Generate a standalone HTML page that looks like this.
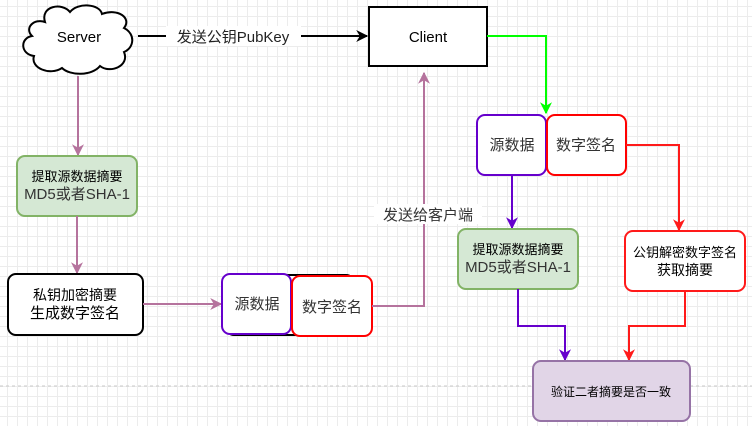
<!DOCTYPE html>
<html><head><meta charset="utf-8"><style>
html,body{margin:0;padding:0}
body{width:752px;height:426px;overflow:hidden;background-color:#fff;
background-image:linear-gradient(#ececec 1px,transparent 1px),linear-gradient(90deg,#ececec 1px,transparent 1px);
background-size:10px 10px;background-position:-3px -4px;
font-family:"Liberation Sans","Noto Sans CJK SC",sans-serif}
svg{position:absolute;left:0;top:0}
</style></head><body>
<svg width="752" height="426" viewBox="0 0 752 426" font-family="Liberation Sans, Noto Sans CJK SC, sans-serif">
<defs>
<marker id="a" viewBox="0 0 10 10" refX="9" refY="5" markerWidth="6" markerHeight="6" orient="auto"><path d="M0,0 L10,5 L0,10 L3,5 Z" fill="context-stroke"/></marker>
</defs>
<line x1="0" y1="386" x2="752" y2="386" stroke="#c8c8c8" stroke-dasharray="3,3"/>
<path d="M45,22 C40,6 62,2 70,12 C78,2 100,4 102,14 C118,8 132,18 124,28 C136,34 134,48 124,52 C130,66 110,74 100,66 C92,76 70,76 62,68 C50,76 30,68 34,56 C20,54 20,38 32,36 C24,28 34,18 45,22 Z" fill="#fff" stroke="#000" stroke-width="2"/>
<text x="79" y="42" font-size="15" text-anchor="middle">Server</text>
<line x1="138" y1="36" x2="367" y2="36" stroke="#000" stroke-width="2" marker-end="url(#a)"/>
<rect x="166" y="26" width="135" height="20" fill="#fff"/>
<text x="233" y="42" font-size="15" text-anchor="middle" fill="#222">发送公钥PubKey</text>
<rect x="369" y="7" width="118" height="59" fill="#fff" stroke="#000" stroke-width="2"/>
<text x="428" y="42" font-size="15" text-anchor="middle">Client</text>
<line x1="78" y1="76" x2="78" y2="155" stroke="#b5739d" stroke-width="2" marker-end="url(#a)"/>
<rect x="17" y="156" width="120" height="60" rx="8" fill="#d5e8d4" stroke="#82b366" stroke-width="2"/>
<text x="77" y="181" font-size="13" text-anchor="middle">提取源数据摘要</text>
<text x="77" y="199" font-size="15" text-anchor="middle" fill="#333">MD5或者SHA-1</text>
<line x1="77" y1="216" x2="77" y2="273" stroke="#b5739d" stroke-width="2" marker-end="url(#a)"/>
<rect x="8" y="274" width="135" height="61" rx="8" fill="#fff" stroke="#000" stroke-width="2"/>
<text x="75" y="300" font-size="14" text-anchor="middle">私钥加密摘要</text>
<text x="75" y="318" font-size="15" text-anchor="middle">生成数字签名</text>
<line x1="143" y1="304" x2="221" y2="304" stroke="#b5739d" stroke-width="2" marker-end="url(#a)"/>
<rect x="226" y="275" width="128" height="60" rx="8" fill="#fff" stroke="#000" stroke-width="2"/>
<rect x="222" y="274" width="69" height="60" rx="8" fill="#fff" stroke="#6600cc" stroke-width="2"/>
<text x="257" y="309" font-size="15" text-anchor="middle" fill="#333">源数据</text>
<rect x="292" y="276" width="80" height="60" rx="8" fill="#fff" stroke="#ff0000" stroke-width="2"/>
<text x="332" y="312" font-size="15" text-anchor="middle" fill="#333">数字签名</text>
<polyline points="372,306 424,306 424,73" fill="none" stroke="#b5739d" stroke-width="2" marker-end="url(#a)"/>
<rect x="374" y="204" width="108" height="20" fill="#fff"/>
<text x="428" y="220" font-size="15" text-anchor="middle" fill="#333">发送给客户端</text>
<polyline points="487,36 546,36 546,113" fill="none" stroke="#00ff00" stroke-width="2" marker-end="url(#a)"/>
<rect x="477" y="115" width="69" height="60" rx="8" fill="#fff" stroke="#6600cc" stroke-width="2"/>
<text x="512" y="150" font-size="15" text-anchor="middle" fill="#333">源数据</text>
<rect x="547" y="115" width="79" height="60" rx="8" fill="#fff" stroke="#ff0000" stroke-width="2"/>
<text x="586" y="150" font-size="15" text-anchor="middle" fill="#333">数字签名</text>
<line x1="512" y1="175" x2="512" y2="228" stroke="#6600cc" stroke-width="2" marker-end="url(#a)"/>
<polyline points="626,145 679,145 679,230" fill="none" stroke="#ff1a1a" stroke-width="2" marker-end="url(#a)"/>
<rect x="458" y="229" width="120" height="60" rx="8" fill="#d5e8d4" stroke="#82b366" stroke-width="2"/>
<text x="518" y="254" font-size="13" text-anchor="middle">提取源数据摘要</text>
<text x="518" y="272" font-size="15" text-anchor="middle" fill="#333">MD5或者SHA-1</text>
<rect x="625" y="231" width="120" height="60" rx="8" fill="#fff" stroke="#ff1a1a" stroke-width="2"/>
<text x="685" y="257" font-size="13" text-anchor="middle">公钥解密数字签名</text>
<text x="685" y="275" font-size="14" text-anchor="middle">获取摘要</text>
<polyline points="518,289 518,326 565,326 565,360" fill="none" stroke="#6600cc" stroke-width="2" marker-end="url(#a)"/>
<polyline points="685,291 685,326 629,326 629,360" fill="none" stroke="#ff1a1a" stroke-width="2" marker-end="url(#a)"/>
<rect x="533" y="361" width="157" height="60" rx="8" fill="#e1d5e7" stroke="#9673a6" stroke-width="2"/>
<text x="611" y="396" font-size="12" text-anchor="middle">验证二者摘要是否一致</text>
</svg>
</body></html>
